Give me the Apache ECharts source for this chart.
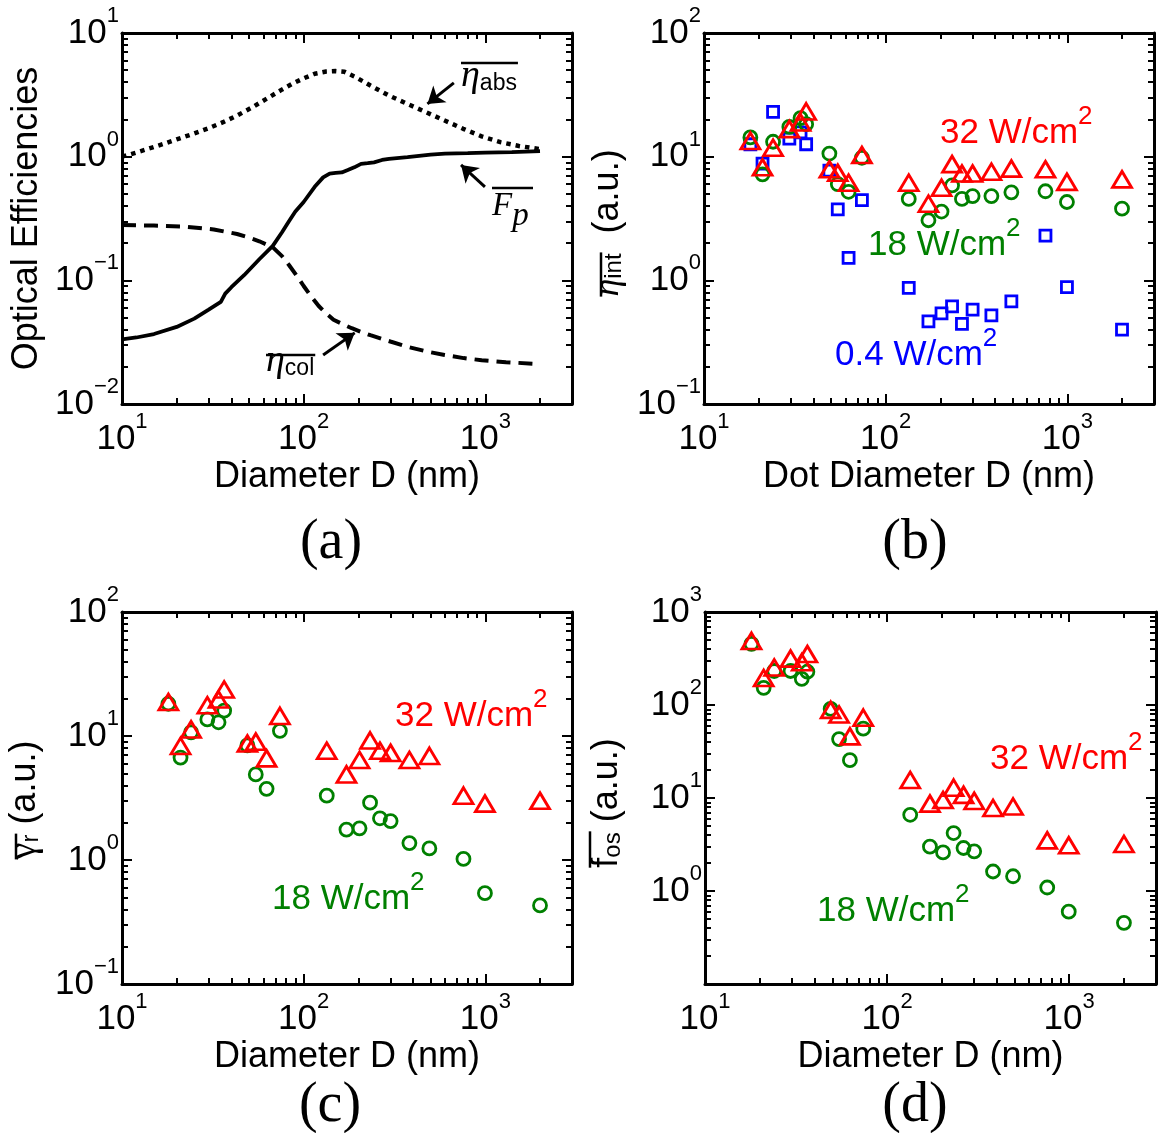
<!DOCTYPE html>
<html>
<head>
<meta charset="utf-8">
<title>Optical efficiencies and dot-diameter dependence</title>
<script src="https://cdn.jsdelivr.net/npm/echarts@6/dist/echarts.min.js"></script>
<style>
  html, body { margin: 0; padding: 0; background: #fff; }
  #chart { width: 1161px; height: 1133px; }
</style>
</head>
<body>
<div id="chart"></div>
<script>
// ---------------- data ----------------
// (a) simulated optical efficiencies vs. diameter (nm)
const dAbs   = [10, 12, 14, 17, 20, 25, 30, 36, 43, 52, 62, 75, 87, 100, 115, 133, 150, 168, 193, 233, 295, 373, 471, 597, 755, 955, 1210, 1530, 2000];
const etaAbs = [1.00, 1.08, 1.16, 1.27, 1.38, 1.54, 1.70, 1.90, 2.15, 2.50, 2.92, 3.45, 3.90, 4.30, 4.68, 4.88, 4.92, 4.85, 4.40, 3.76, 3.12, 2.67, 2.29, 1.96, 1.68, 1.46, 1.31, 1.22, 1.15];

const dFp = [10, 12, 15, 20, 25, 30, 35, 37, 40, 47, 57, 67.6, 76, 83, 90, 100, 115, 128, 139, 150, 162, 175, 190, 207, 225, 244, 270, 295, 373, 500, 600, 800, 1000, 1400, 2000];
const fp  = [0.0333, 0.0345, 0.0368, 0.042, 0.049, 0.058, 0.067, 0.078, 0.088, 0.11, 0.148, 0.19, 0.245, 0.30, 0.36, 0.43, 0.57, 0.68, 0.73, 0.74, 0.745, 0.78, 0.82, 0.875, 0.885, 0.90, 0.94, 0.96, 0.99, 1.04, 1.06, 1.07, 1.08, 1.09, 1.11];

const dCol   = [10, 15, 22, 32, 43, 50, 57, 67.6, 76, 83, 92, 100, 110, 121, 133, 146, 165, 184, 210, 233, 300, 373, 480, 597, 760, 955, 1300, 2000];
const etaCol = [0.280, 0.277, 0.272, 0.258, 0.237, 0.222, 0.207, 0.185, 0.157, 0.133, 0.108, 0.090, 0.074, 0.062, 0.054, 0.048, 0.044, 0.041, 0.038, 0.036, 0.032, 0.029, 0.0265, 0.0249, 0.0235, 0.0226, 0.0218, 0.0210];

// (b)-(d) measured dots, one entry per dot diameter (nm)
const diameters = [18, 21, 24, 29.5, 34, 36.5, 49, 54.5, 62.5, 74, 134, 172, 203, 232, 263, 301, 382, 492, 758, 995, 2000];

const etaInt32 = [13.4, 8.2, 11.8, 16.7, 18.9, 23.2, 7.9, 7.4, 6.15, 10.3, 6.15, 4.16, 5.6, 8.7, 7.3, 7.3, 7.55, 8.0, 7.9, 6.25, 6.55];
const etaInt18 = [14.3, 7.2, 13.2, 17.4, 20.5, 18.3, 10.6, 6.0, 5.2, 9.8, 4.55, 3.06, 3.6, 5.85, 4.55, 4.8, 4.8, 5.15, 5.25, 4.3, 3.8];
const etaInt04 = [12.6, 8.8, 23.0, 14.0, 15.7, 12.6, 7.7, 3.75, 1.52, 4.45, 0.87, 0.465, 0.54, 0.615, 0.445, 0.58, 0.52, 0.675, 2.3, 0.88, 0.40];

const gamma32 = [18.8, 8.3, 11.3, 17.7, 19.7, 23.7, 8.7, 9.0, 6.6, 14.5, 7.6, 4.9, 6.4, 9.2, 7.6, 7.3, 6.4, 6.9, 3.3, 2.85, 3.0];
const gamma18 = [18.2, 6.7, 10.7, 13.6, 12.9, 16.0, 8.4, 4.9, 3.75, 11.0, 3.3, 1.76, 1.8, 2.9, 2.17, 2.06, 1.37, 1.24, 1.02, 0.54, 0.43];

const fos32 = [488, 195, 253, 315, 288, 353, 88.6, 79, 46, 73, 15.6, 8.7, 9.5, 12.9, 10.8, 9.3, 7.8, 8.1, 3.5, 3.1, 3.2];
const fos18 = [455, 153, 232, 232, 191, 228, 90.8, 43, 25.5, 55.6, 6.6, 3.0, 2.6, 4.2, 2.9, 2.67, 1.62, 1.44, 1.09, 0.60, 0.455];

// axis ranges and labelled decades (exponents of ten)
const xRange = [10, 3000];
const xDecades = [1, 2, 3];
const yRanges = [[0.01, 10], [0.1, 100], [0.1, 100], [0.1, 1000]];
const yDecades = [[-2, -1, 0, 1], [-1, 0, 1, 2], [-1, 0, 1, 2], [0, 1, 2, 3]];

const xTitles = ['Diameter D (nm)', 'Dot Diameter D (nm)', 'Diameter D (nm)', 'Diameter D (nm)'];
const panelTags = ['(a)', '(b)', '(c)', '(d)'];
const powerLabels = ['32', '18', '0.4'];

// ---------------- styling helpers ----------------
const SANS = '"Liberation Sans", Arial, Helvetica, sans-serif';
const SERIF = '"Liberation Serif", "Times New Roman", Times, serif';
const RED = '#ff0000', GREEN = '#008000', BLUE = '#0000ff';
const lg = Math.log10;

// plot boxes
const boxes = [
  { left: 122, top: 33,  width: 450, height: 371 },
  { left: 704, top: 33,  width: 450, height: 371 },
  { left: 122, top: 612, width: 450, height: 372 },
  { left: 705, top: 612, width: 451, height: 372 }
];

function majorTicks(lo, hi) {
  const out = [];
  for (let e = Math.ceil(lo - 1e-9); e <= hi + 1e-9; e++) out.push(e);
  return out;
}
function minorTicks(lo, hi) {
  const out = [];
  for (let e = Math.floor(lo); e < hi; e++) {
    for (let k = 2; k <= 9; k++) {
      const v = e + lg(k);
      if (v > lo + 1e-9 && v < hi - 1e-9) out.push(v);
    }
  }
  return out;
}

function expLabel(v) {
  const e = Math.round(v);
  return '{b|10}{s|' + (e < 0 ? '\u2212' + (-e) : String(e)) + '}';
}
const tickRich = {
  b: { fontSize: 35, fontFamily: SANS, color: '#000', lineHeight: 56 },
  s: { fontSize: 22, fontFamily: SANS, color: '#000', lineHeight: 22, verticalAlign: 'top' }
};

function makeAxis(gridIndex, position, range, isMinor, labelExps, name, nameGap) {
  const isX = position === 'bottom' || position === 'top';
  const ax = {
    type: 'value',
    gridIndex: gridIndex,
    position: position,
    min: range[0],
    max: range[1],
    axisLine: { show: !isMinor, onZero: false, lineStyle: { color: '#000', width: 3 } },
    axisTick: {
      show: true, inside: true, length: isMinor ? 6 : 10,
      lineStyle: { color: '#000', width: 2 },
      customValues: isMinor ? minorTicks(range[0], range[1]) : majorTicks(range[0], range[1])
    },
    axisLabel: labelExps ? {
      show: true, customValues: labelExps, formatter: expLabel, rich: tickRich,
      margin: isX ? 7 : 3
    } : { show: false },
    splitLine: { show: false },
    minorTick: { show: false },
    minorSplitLine: { show: false }
  };
  if (name) {
    ax.name = name;
    ax.nameLocation = 'middle';
    ax.nameGap = nameGap;
    ax.nameTextStyle = { fontSize: 36, fontFamily: SANS, color: '#000' };
  }
  return ax;
}

const grids = [], xAxes = [], yAxes = [];
boxes.forEach((b, i) => {
  const xr = [lg(xRange[0]), lg(xRange[1])];
  const yr = [lg(yRanges[i][0]), lg(yRanges[i][1])];
  [false, true].forEach(isMinor => {
    grids.push({ left: b.left, top: b.top, width: b.width, height: b.height, containLabel: false, outerBoundsMode: 'none' });
    const g = grids.length - 1;
    xAxes.push(makeAxis(g, 'bottom', xr, isMinor, isMinor ? null : xDecades, isMinor ? null : xTitles[i], 55));
    xAxes.push(makeAxis(g, 'top', xr, isMinor, null));
    yAxes.push(makeAxis(g, 'left', yr, isMinor, isMinor ? null : yDecades[i], (!isMinor && i === 0) ? 'Optical Efficiencies' : null, 77));
    yAxes.push(makeAxis(g, 'right', yr, isMinor, null));
  });
});
// axis index of panel i's main bottom/left axes
const axIdx = i => 4 * i;

const pts = (xs, ys) => xs.map((x, k) => [lg(x), lg(ys[k])]);

function arrow(from, to) {
  return {
    silent: true,
    symbol: ['none', 'arrow'],
    symbolSize: 16,
    label: { show: false },
    emphasis: { disabled: true },
    lineStyle: { color: '#000', width: 3, type: 'solid', opacity: 1 },
    itemStyle: { color: '#000' },
    data: [[{ coord: [lg(from[0]), lg(from[1])] }, { coord: [lg(to[0]), lg(to[1])] }]]
  };
}

function curve(xs, ys, width, dash, mark) {
  return {
    type: 'line', xAxisIndex: 0, yAxisIndex: 0,
    data: pts(xs, ys), symbol: 'none', showSymbol: false, silent: true,
    lineStyle: { color: '#000', width: width, type: dash, cap: 'butt' },
    itemStyle: { color: '#000' },
    markLine: mark
  };
}

function dots(panel, ys, shape, size, color, z) {
  return {
    type: 'scatter', xAxisIndex: axIdx(panel), yAxisIndex: axIdx(panel),
    data: pts(diameters, ys), symbol: shape, symbolSize: size, silent: true, z: z,
    itemStyle: { color: 'rgba(0,0,0,0)', borderColor: color, borderWidth: 2.8, opacity: 1 }
  };
}

const TRI = [19, 16], CIRC = 13, SQ = 11;
const series = [
  // (a) optical efficiency curves, with arrows pointing at them
  curve(dAbs, etaAbs, 4.5, [4.5, 5], arrow([671, 3.95], [480, 2.67])),
  curve(dFp, fp, 3.8, 'solid', arrow([995, 0.569], [735, 0.857])),
  curve(dCol, etaCol, 4, [14, 8], arrow([128, 0.0249], [191, 0.0376])),
  // (b) integrated efficiency at three irradiances
  dots(1, etaInt04, 'rect', SQ, BLUE, 2),
  dots(1, etaInt18, 'circle', CIRC, GREEN, 3),
  dots(1, etaInt32, 'triangle', TRI, RED, 4),
  // (c) radiative rate
  dots(2, gamma18, 'circle', CIRC, GREEN, 3),
  dots(2, gamma32, 'triangle', TRI, RED, 4),
  // (d) oscillator strength
  dots(3, fos18, 'circle', CIRC, GREEN, 3),
  dots(3, fos32, 'triangle', TRI, RED, 4)
];

// ---------------- text annotations ----------------
const measureCtx = document.createElement('canvas').getContext('2d');
function textWidth(font, s) { measureCtx.font = font; return measureCtx.measureText(s).width; }

function textEl(x, y, text, rich, align, vAlign, extra) {
  return Object.assign({
    type: 'text', x: x, y: y, silent: true,
    style: { text: text, rich: rich, align: align, verticalAlign: vAlign, textAlign: align, textVerticalAlign: vAlign }
  }, extra || {});
}
function lineEl(x1, y1, x2, y2, w) {
  return { type: 'line', silent: true, shape: { x1: x1, y1: y1, x2: x2, y2: y2 }, style: { stroke: '#000', lineWidth: w || 2.5 } };
}

function powerNote(label, color, x, yMid) {
  return textEl(x, yMid, '{b|' + label + ' W/cm}{s|2}', {
    b: { fontSize: 35, fontFamily: SANS, fill: color, lineHeight: 58 },
    s: { fontSize: 26, fontFamily: SANS, fill: color, lineHeight: 26, verticalAlign: 'top' }
  }, 'left', 'middle');
}

// overlined Greek symbol with a sans subscript, e.g. mean eta_abs
function barredGreek(x, yBottom, greek, sub, barY) {
  const gFont = 'italic 38px ' + SERIF, sFont = '23px ' + SANS;
  const w = textWidth(gFont, greek) + textWidth(sFont, sub);
  return {
    type: 'group', silent: true,
    children: [
      textEl(x, yBottom, '{g|' + greek + '}{s|' + sub + '}', {
        g: { fontSize: 38, fontFamily: SERIF, fontStyle: 'italic', fill: '#000', lineHeight: 38, verticalAlign: 'bottom' },
        s: { fontSize: 23, fontFamily: SANS, fill: '#000', lineHeight: 23, verticalAlign: 'bottom' }
      }, 'left', 'bottom'),
      lineEl(x, barY, x + w + 1, barY)
    ]
  };
}

// rotated y-axis title: overlined symbol + subscript, then "(a.u.)"
function yTitle(baselineX, centerY, sym, symStyle, sub, gap, barOffset) {
  const symFont = (symStyle.fontStyle ? symStyle.fontStyle + ' ' : '') + symStyle.fontSize + 'px ' + symStyle.fontFamily;
  const subFont = '24px ' + SANS, tailFont = '36px ' + SANS;
  const tail = gap + '(a.u.)';
  const wBar = textWidth(symFont, sym) + textWidth(subFont, sub);
  const total = wBar + textWidth(tailFont, tail);
  const x0 = -total / 2;
  const drop = 0.1535 * 36;   // baseline sits this far above the line bottom
  return {
    type: 'group', x: baselineX + drop, y: centerY, rotation: Math.PI / 2, silent: true,
    children: [
      textEl(x0, 0, '{g|' + sym + '}{s|' + sub + '}{t|' + tail + '}', {
        g: Object.assign({ fill: '#000', lineHeight: symStyle.fontSize, verticalAlign: 'bottom' }, symStyle),
        s: { fontSize: 24, fontFamily: SANS, fill: '#000', lineHeight: 24, verticalAlign: 'bottom' },
        t: { fontSize: 36, fontFamily: SANS, fill: '#000', lineHeight: 36, verticalAlign: 'bottom' }
      }, 'left', 'bottom'),
      lineEl(x0, -(drop + barOffset), x0 + wBar + 1, -(drop + barOffset))
    ]
  };
}

const graphics = [
  // (a) curve labels
  barredGreek(461, 95, '\u03b7', 'abs', 63),
  barredGreek(266, 380, '\u03b7', 'col', 355),
  {
    type: 'group', silent: true,
    children: [
      textEl(492, 190, '{f|F}{p|p}', {
        f: { fontSize: 33, fontFamily: SERIF, fontStyle: 'italic', fill: '#000', lineHeight: 33, verticalAlign: 'top' },
        p: { fontSize: 33, fontFamily: SERIF, fontStyle: 'italic', fill: '#000', lineHeight: 43, verticalAlign: 'bottom' }
      }, 'left', 'top'),
      lineEl(492, 188, 533, 188)
    ]
  },
  // (b)-(d) y-axis titles
  yTitle(621, 223, '\u03b7', { fontSize: 36, fontFamily: SERIF, fontStyle: 'italic' }, 'int', '  ', 20),
  yTitle(38, 800, '\u03b3', { fontSize: 38, fontFamily: SERIF }, 'r', ' ', 22),
  yTitle(620, 803, 'f', { fontSize: 36, fontFamily: SANS }, 'os', ' ', 30),
  // irradiance labels
  powerNote(powerLabels[0], RED, 940, 133),
  powerNote(powerLabels[1], GREEN, 868, 245),
  powerNote(powerLabels[2], BLUE, 835, 355),
  powerNote(powerLabels[0], RED, 395, 716),
  powerNote(powerLabels[1], GREEN, 272, 899),
  powerNote(powerLabels[0], RED, 990, 759),
  powerNote(powerLabels[1], GREEN, 817, 911)
];
// panel tags
[[331, 543], [915, 543], [330, 1106], [915, 1106]].forEach((p, i) => {
  graphics.push({
    type: 'text', x: p[0], y: p[1], silent: true,
    style: { text: panelTags[i], font: '56px ' + SERIF, fill: '#000', align: 'center', verticalAlign: 'middle', textAlign: 'center', textVerticalAlign: 'middle' }
  });
});

const chart = echarts.init(document.getElementById('chart'), null, { renderer: 'canvas', width: 1161, height: 1133 });
chart.setOption({
  backgroundColor: '#fff',
  animation: false,
  grid: grids,
  xAxis: xAxes,
  yAxis: yAxes,
  series: series,
  graphic: { elements: graphics }
});
</script>
</body>
</html>
